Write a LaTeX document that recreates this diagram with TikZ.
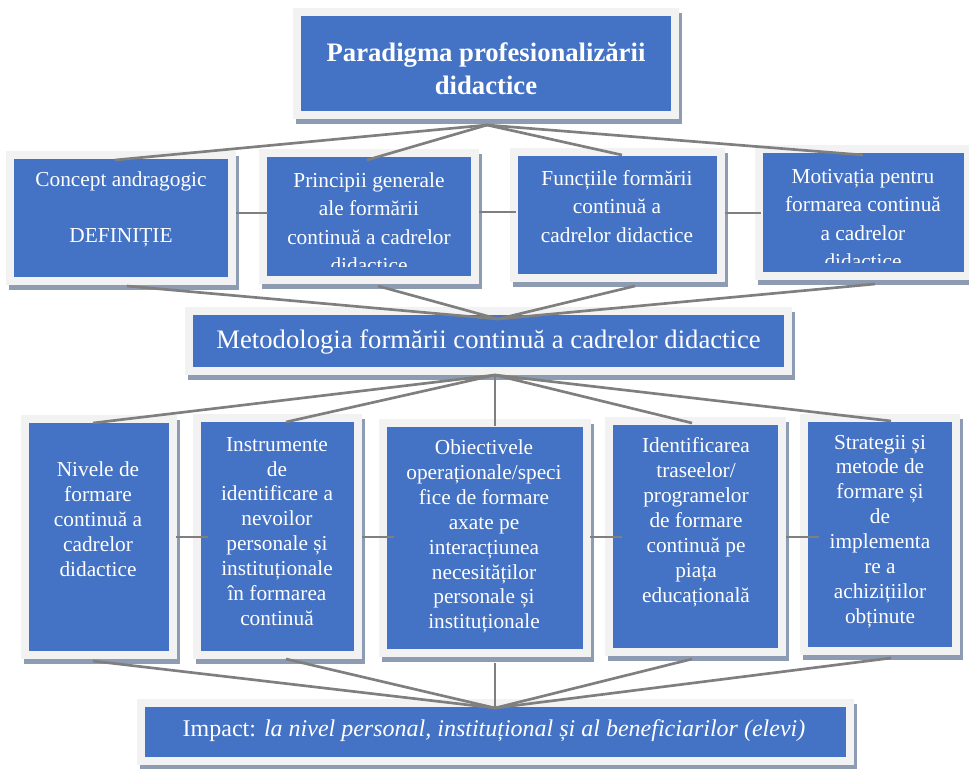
\documentclass[tikz,border=0pt]{standalone}
\usepackage{fontspec}
\setmainfont{Liberation Serif}
\usetikzlibrary{fit}
\definecolor{boxblue}{HTML}{4472C4}
\definecolor{framegray}{HTML}{F2F2F2}
\definecolor{shadowc}{HTML}{8D9BB3}
\definecolor{linegray}{HTML}{7F7F7F}
\tikzset{
  box/.style={inner sep=0pt, outer sep=0pt, fill=boxblue, draw=framegray, line width=6pt,
    preaction={fill=shadowc, draw=shadowc, line width=6pt, transform canvas={shift={(3,5)}}}},
  txt/.style={text=white, align=center, inner sep=0pt, font=\fontsize{16}{21.4}\selectfont},
  txtb/.style={txt, font=\fontsize{16}{18.7}\selectfont},
  ttl/.style={txt, font=\bfseries\fontsize{20}{24.75}\selectfont},
  conn/.style={draw=linegray, line width=2pt}
}
\begin{document}
\begin{tikzpicture}[x=0.75pt,y=-0.75pt]
\useasboundingbox (0,0) rectangle (969,768);
% boxes
\node[box, fit={(297,12) (675,115)}] (title) {};
\node[box, fit={(10,155) (232,281)}] (c1) {};
\node[box, fit={(263,153) (475,280)}] (c2) {};
\node[box, fit={(514,152) (721,278)}] (c3) {};
\node[box, fit={(759,149) (968,276)}] (c4) {};
\node[box, fit={(189,311) (788,371)}] (mid) {};
\node[box, fit={(25,419) (173,655)}] (r1) {};
\node[box, fit={(197,418) (358,655)}] (r2) {};
\node[box, fit={(383,423) (587,653)}] (r3) {};
\node[box, fit={(609,421) (782,652)}] (r4) {};
\node[box, fit={(804,418) (956,651)}] (r5) {};
\node[box, fit={(141,703) (850,761)}] (imp) {};
% texts
\node[ttl] (titlet) at (486,68.5) {Paradigma profesionalizării\\didactice};
\node[txt] (c1t) at (121,209.5) {Concept andragogic\\[21pt]DEFINIȚIE};
\begin{scope}
\clip (267,157) rectangle (471,266);
\node[txt] (c2t) at (369,222.5) {Principii generale\\ale formării\\continuă a cadrelor\\didactice};
\end{scope}
\node[txt] (c3t) at (617,206.5) {Funcțiile formării\\continuă a\\cadrelor didactice};
\begin{scope}
\clip (763,153) rectangle (964,262);
\node[txt] (c4t) at (863,219) {Motivația pentru\\formarea continuă\\a cadrelor\\didactice};
\end{scope}
\node[txt, font=\fontsize{20}{24}\selectfont] (midt) at (488.5,342) {Metodologia formării continuă a cadrelor didactice};
\node[txtb] (r1t) at (98,519) {Nivele de\\formare\\continuă a\\cadrelor\\didactice};
\node[txtb] (r2t) at (277,531.5) {Instrumente\\de\\identificare a\\nevoilor\\personale și\\instituționale\\în formarea\\continuă};
\node[txtb] (r3t) at (484,536.5) {Obiectivele\\operaționale/speci\\fice de formare\\axate pe\\interacțiunea\\necesităților\\personale și\\instituționale};
\node[txtb] (r4t) at (696,522) {Identificarea\\traseelor/\\programelor\\de formare\\continuă pe\\piața\\educațională};
\node[txtb] (r5t) at (880,531.5) {Strategii și\\metode de\\formare și\\de\\implementa\\re a\\achizițiilor\\obținute};
\node[txt, font=\fontsize{18}{21}\selectfont] (impt) at (494,731) {Impact: \textit{la nivel personal, instituțional și al beneficiarilor (elevi)}};
% connection points
\coordinate (tS) at (487,125);
\coordinate (c1N) at (115,160); \coordinate (c2N) at (367,160);
\coordinate (c3N) at (622,155); \coordinate (c4N) at (863,155);
\coordinate (c1S) at (127,286); \coordinate (c2S) at (378,286);
\coordinate (c3S) at (635,286); \coordinate (c4S) at (875,284);
\coordinate (mN) at (498,319); \coordinate (mS) at (495,375);
\coordinate (r1N) at (93,423); \coordinate (r2N) at (286,422); \coordinate (r3N) at (495,426);
\coordinate (r4N) at (692,423); \coordinate (r5N) at (891,421);
\coordinate (r1S) at (93,661); \coordinate (r2S) at (286,659); \coordinate (r3S) at (495,663);
\coordinate (r4S) at (692,659); \coordinate (r5S) at (891,658);
\coordinate (iN) at (495,708);
\coordinate (c1E) at (236,213); \coordinate (c2W) at (268,213);
\coordinate (c2E) at (479,212); \coordinate (c3W) at (516,212);
\coordinate (c3E) at (725,213); \coordinate (c4W) at (761,213);
\coordinate (r1E) at (176,537); \coordinate (r2W) at (208,537);
\coordinate (r2E) at (362,537); \coordinate (r3W) at (394,537);
\coordinate (r3E) at (590,537); \coordinate (r4W) at (622,537);
\coordinate (r4E) at (786,537); \coordinate (r5W) at (819,537);
% connectors
\foreach \p in {c1N,c2N,c3N,c4N} \draw[conn] (tS) -- (\p);
\foreach \p in {c1S,c2S,c3S,c4S} \draw[conn] (\p) -- (mN);
\foreach \p in {r1N,r2N,r3N,r4N,r5N} \draw[conn] (mS) -- (\p);
\foreach \p in {r1S,r2S,r3S,r4S,r5S} \draw[conn] (\p) -- (iN);
\draw[conn] (c1E) -- (c2W);
\draw[conn] (c2E) -- (c3W);
\draw[conn] (c3E) -- (c4W);
\draw[conn] (r1E) -- (r2W);
\draw[conn] (r2E) -- (r3W);
\draw[conn] (r3E) -- (r4W);
\draw[conn] (r4E) -- (r5W);
\end{tikzpicture}
\end{document}
